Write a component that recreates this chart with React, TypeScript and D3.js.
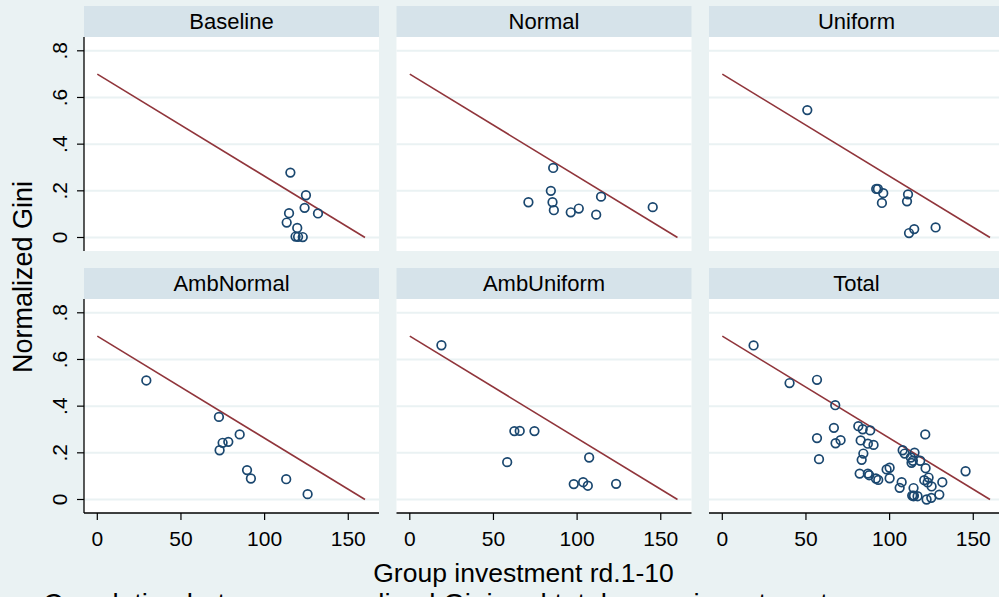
import * as d3 from 'd3';

// ── Data ────────────────────────────────────────────────────────────────────
const panels = ['Baseline', 'Normal', 'Uniform', 'AmbNormal', 'AmbUniform', 'Total'];

const baselineInvest = [115.4, 124.7, 123.9, 131.9, 114.6, 113.2, 119.5, 118.5, 120.0, 122.8];
const baselineGini   = [0.278, 0.181, 0.127, 0.103, 0.104, 0.064, 0.041, 0.004, 0.003, 0.002];

const normalInvest = [85.7, 84.3, 70.9, 85.3, 86.1, 96.2, 101.0, 111.4, 114.3, 145.2];
const normalGini   = [0.298, 0.200, 0.151, 0.151, 0.117, 0.108, 0.124, 0.098, 0.175, 0.130];

const uniformInvest = [50.8, 92.0, 93.0, 96.2, 95.4, 111.0, 110.4, 114.7, 111.6, 127.5];
const uniformGini   = [0.546, 0.208, 0.208, 0.190, 0.148, 0.185, 0.155, 0.036, 0.019, 0.043];

const ambNormalInvest = [29.3, 72.7, 85.1, 78.3, 74.9, 73.1, 89.5, 91.8, 112.9, 125.7];
const ambNormalGini   = [0.510, 0.354, 0.279, 0.247, 0.243, 0.211, 0.126, 0.090, 0.087, 0.023];

const ambUniformInvest = [18.9, 62.5, 65.7, 74.5, 58.2, 107.2, 98.0, 103.6, 106.4, 123.3];
const ambUniformGini   = [0.661, 0.293, 0.294, 0.293, 0.160, 0.180, 0.066, 0.074, 0.059, 0.067];

// "Total" panel is its own set of points in the reference
const totalInvest = [
  18.7, 40.2, 56.6, 67.5, 56.6, 57.8, 66.7, 67.7, 70.7, 81.3,
  83.9, 88.4, 82.7, 87.0, 90.4, 84.3, 83.3, 82.1, 87.0, 87.8,
  91.8, 93.2, 98.2, 100.0, 100.0, 107.8, 109.0, 114.9, 112.7, 113.9,
  113.1, 118.3, 121.5, 121.3, 107.2, 106.0, 114.3, 113.5, 114.5, 116.7,
  120.7, 123.3, 122.7, 125.1, 131.5, 129.7, 124.9, 122.1, 145.4, 114.3,
];
const totalGini = [
  0.660, 0.499, 0.513, 0.404, 0.263, 0.173, 0.307, 0.241, 0.254, 0.314,
  0.301, 0.296, 0.253, 0.239, 0.234, 0.197, 0.170, 0.111, 0.111, 0.104,
  0.090, 0.084, 0.129, 0.136, 0.091, 0.211, 0.197, 0.201, 0.180, 0.166,
  0.157, 0.166, 0.134, 0.279, 0.074, 0.050, 0.049, 0.017, 0.017, 0.014,
  0.083, 0.094, 0.073, 0.056, 0.074, 0.021, 0.007, 0.000, 0.121, 0.014,
];

// reference line
const refX = [0, 160];
const refY = [0.7, 0];

const xTicks = [0, 50, 100, 150];
const yTicks = [0, 0.2, 0.4, 0.6, 0.8];

type Pt = { x: number; y: number };
const zip = (xs: number[], ys: number[]): Pt[] => xs.map((x, i) => ({ x, y: ys[i] }));

const series: Pt[][] = [
  zip(baselineInvest, baselineGini),
  zip(normalInvest, normalGini),
  zip(uniformInvest, uniformGini),
  zip(ambNormalInvest, ambNormalGini),
  zip(ambUniformInvest, ambUniformGini),
  zip(totalInvest, totalGini),
];

// ── Layout ──────────────────────────────────────────────────────────────────
const W = 999, H = 597;
const BG = '#EAF2F3';
const STRIP = '#D6E3EA';
const NAVY = '#1A476F';
const MAROON = '#90353B';
const FONT = '"Liberation Sans", Arial, sans-serif';

const colLeft = [84, 396.5, 709];
const panelW = 295;
const rowTop = [6, 268];
const stripH = 31;
const plotH = 214;

const fmtY = (v: number) => (v === 0 ? '0' : d3.format('.1f')(v).replace(/^0/, ''));

function Panel({ idx }: { idx: number }) {
  const col = idx % 3, row = Math.floor(idx / 3);
  const left = colLeft[col];
  const top = rowTop[row];
  const pTop = top + stripH;
  const pBot = pTop + plotH;

  const x = d3.scaleLinear().domain([0, 160]).range([left + 13.3, left + 281]);
  const y = d3.scaleLinear().domain([0, 0.8]).range([pTop + 200.5, pTop + 13.8]);
  const line = d3.line<number>().x((_, i) => x(refX[i])).y(d => y(d));

  return (
    <g>
      <rect x={left} y={top} width={panelW} height={stripH} fill={STRIP} />
      <text x={left + panelW / 2} y={top + 22.5} textAnchor="middle" fontSize={22} fill="#000">
        {panels[idx]}
      </text>
      <rect x={left} y={pTop} width={panelW} height={plotH} fill="#fff" />
      {yTicks.map(t => (
        <line key={t} x1={left} x2={left + panelW} y1={y(t)} y2={y(t)} stroke={BG} strokeWidth={2} />
      ))}
      <path d={line(refY) ?? ''} fill="none" stroke={MAROON} strokeWidth={1.6} />
      {series[idx].map((d, i) => (
        <circle key={i} cx={x(d.x)} cy={y(d.y)} r={4.3} fill="none" stroke={NAVY} strokeWidth={1.7} />
      ))}
      {col === 0 && (
        <g>
          <line x1={left} x2={left} y1={pTop} y2={pBot} stroke="#000" strokeWidth={1.3} />
          {yTicks.map(t => (
            <g key={t}>
              <line x1={left - 7} x2={left} y1={y(t)} y2={y(t)} stroke="#000" strokeWidth={1.2} />
              <text transform={`translate(67,${y(t)}) rotate(-90)`} textAnchor="middle" fontSize={21} fill="#000">
                {fmtY(t)}
              </text>
            </g>
          ))}
        </g>
      )}
      {row === 1 && (
        <g>
          <line x1={left} x2={left + panelW} y1={pBot} y2={pBot} stroke="#000" strokeWidth={1.3} />
          {xTicks.map(t => (
            <g key={t}>
              <line x1={x(t)} x2={x(t)} y1={pBot} y2={pBot + 7} stroke="#000" strokeWidth={1.2} />
              <text x={x(t)} y={545.7} textAnchor="middle" fontSize={21} fill="#000">{t}</text>
            </g>
          ))}
        </g>
      )}
    </g>
  );
}

export default function App() {
  return (
    <svg width={W} height={H} style={{ display: 'block', position: 'absolute', left: 0, top: 0 }} fontFamily={FONT}>
      <rect width={W} height={H} fill={BG} />
      {panels.map((_, i) => <Panel key={i} idx={i} />)}
      <text transform="translate(32,277) rotate(-90)" textAnchor="middle" fontSize={27} fill="#000">
        Normalized Gini
      </text>
      <text x={523.5} y={582} textAnchor="middle" fontSize={26.5} fill="#000">
        Group investment rd.1-10
      </text>
      {/* note line sits partly below the frame, as in the reference */}
      <text x={43} y={613} fontSize={27.8} fill="#000">
        Correlation between normalized Gini and total group investment
      </text>
    </svg>
  );
}
